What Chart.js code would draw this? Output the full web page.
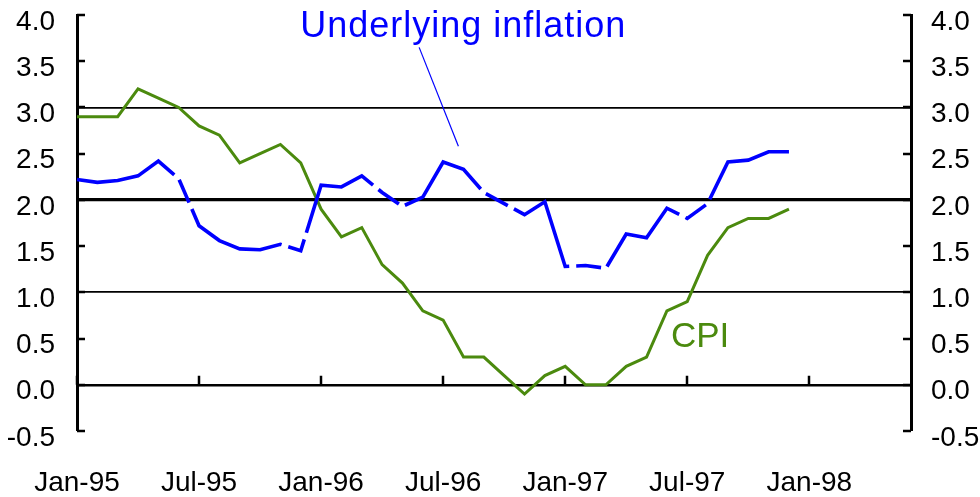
<!DOCTYPE html>
<html>
<head>
<meta charset="utf-8">
<script src="https://cdn.jsdelivr.net/npm/chart.js"></script>
<style>
  html, body { margin: 0; padding: 0; background: #fff; }
  #wrap { width: 980px; height: 497px; }
</style>
</head>
<body>
<div id="wrap"><canvas id="grafico" width="980" height="497"></canvas></div>
<script>
// months Jan-95 .. Jun-98
const meses = [
  'Jan-95','Feb-95','Mar-95','Apr-95','May-95','Jun-95','Jul-95','Aug-95','Sep-95','Oct-95','Nov-95','Dec-95',
  'Jan-96','Feb-96','Mar-96','Apr-96','May-96','Jun-96','Jul-96','Aug-96','Sep-96','Oct-96','Nov-96','Dec-96',
  'Jan-97','Feb-97','Mar-97','Apr-97','May-97','Jun-97','Jul-97','Aug-97','Sep-97','Oct-97','Nov-97','Dec-97',
  'Jan-98','Feb-98','Mar-98','Apr-98','May-98','Jun-98'
];

const cpi = [2.9, 2.9, 2.9, 3.2, 3.1, 3.0, 2.8, 2.7, 2.4, 2.5, 2.6, 2.4,
             1.9, 1.6, 1.7, 1.3, 1.1, 0.8, 0.7, 0.3, 0.3, 0.1, -0.1, 0.1,
             0.2, 0.0, 0.0, 0.2, 0.3, 0.8, 0.9, 1.4, 1.7, 1.8, 1.8, 1.9];

const subjacente = [2.22, 2.19, 2.21, 2.26, 2.42, 2.23, 1.72, 1.56, 1.47, 1.46, 1.52, 1.45,
                    2.16, 2.14, 2.26, 2.08, 1.93, 2.03, 2.41, 2.33, 2.08, 1.96, 1.84, 1.98,
                    1.28, 1.29, 1.26, 1.63, 1.59, 1.91, 1.80, 1.96, 2.41, 2.43, 2.52, 2.52];

const yMin = -0.5, yMax = 4.0, yStep = 0.5;

const AZUL = '#0000ff';
const VERDE = '#4b8a0e';
const FONTE = '"Liberation Sans", Arial, sans-serif';

// tick marks pointing into the plot + x ticks on the zero line + labels
const extras = {
  id: 'extras',
  afterDatasetsDraw(chart) {
    const c = chart.ctx;
    const x = chart.scales.x, y = chart.scales.y;
    const area = chart.chartArea;
    c.save();
    c.strokeStyle = '#000';
    c.lineWidth = 2.5;
    c.beginPath();
    for (let v = yMin; v <= yMax + 1e-9; v += yStep) {
      const py = Math.round(y.getPixelForValue(v));
      c.moveTo(area.left, py); c.lineTo(area.left + 8, py);
      c.moveTo(area.right, py); c.lineTo(area.right - 8, py);
    }
    const y0 = y.getPixelForValue(0);
    for (let i = 0; i < meses.length; i += 6) {
      const px = Math.round(x.getPixelForValue(i));
      c.moveTo(px, y0); c.lineTo(px, y0 - 9);
    }
    c.stroke();

    // leader line
    c.strokeStyle = AZUL;
    c.lineWidth = 1.2;
    c.beginPath();
    c.moveTo(x.getPixelForValue(16.82), y.getPixelForValue(3.65));
    c.lineTo(x.getPixelForValue(18.75), y.getPixelForValue(2.58));
    c.stroke();

    c.textBaseline = 'alphabetic';
    c.textAlign = 'left';
    c.fillStyle = AZUL;
    c.font = '36px ' + FONTE;
    c.letterSpacing = '1px';
    c.fillText('Underlying inflation', x.getPixelForValue(10.97), y.getPixelForValue(3.76));
    c.fillStyle = VERDE;
    c.font = '35px ' + FONTE;
    c.letterSpacing = '0px';
    c.fillText('CPI', x.getPixelForValue(29.2), y.getPixelForValue(0.41));
    c.restore();
  }
};

function larguraGrade(ctx) {
  const v = Math.round(ctx.tick.value * 10) / 10;
  if (v === 2) return 3.2;
  if (v === 0) return 2.4;
  if (v === 1 || v === 3) return 1.8;
  return 0;
}

const eixoY = (pos, largura, grade) => ({
  type: 'linear',
  position: pos,
  min: yMin,
  max: yMax,
  afterFit(s) {
    s.width = largura;
    s.paddingTop = 0;
    s.paddingBottom = 0;
  },
  ticks: {
    stepSize: yStep,
    color: '#000',
    font: { family: FONTE, size: 28 },
    padding: pos === 'left' ? 22 : 20,
    labelOffset: 7,
    callback: v => v.toFixed(1)
  },
  border: { display: true, color: '#000', width: 3 },
  grid: {
    display: grade,
    drawTicks: false,
    color: '#000',
    lineWidth: larguraGrade
  }
});

new Chart(document.getElementById('grafico').getContext('2d'), {
  type: 'line',
  data: {
    labels: meses,
    datasets: [
      {
        label: 'Underlying inflation',
        data: subjacente,
        borderColor: AZUL,
        borderWidth: 3.6,
        borderDash: [108, 7, 25, 7],
        pointRadius: 0,
        tension: 0,
        yAxisID: 'y'
      },
      {
        label: 'CPI',
        data: cpi,
        borderColor: VERDE,
        borderWidth: 3,
        pointRadius: 0,
        tension: 0,
        yAxisID: 'y'
      }
    ]
  },
  options: {
    responsive: false,
    animation: false,
    devicePixelRatio: 1,
    layout: { padding: { top: 15, left: 0, right: 0, bottom: 0 } },
    plugins: { legend: { display: false }, tooltip: { enabled: false } },
    scales: {
      x: {
        type: 'category',
        offset: false,
        afterFit(s) {
          s.height = 66;
          s.paddingLeft = 0;
          s.paddingRight = 0;
        },
        border: { display: false },
        grid: { display: false, drawTicks: false },
        ticks: {
          autoSkip: false,
          maxRotation: 0,
          color: '#000',
          padding: 35,
          font: { family: FONTE, size: 28 },
          callback: (v, i) => (i % 6 === 0 ? meses[i] : '')
        }
      },
      y: eixoY('left', 77, true),
      y2: eixoY('right', 69, false)
    }
  },
  plugins: [extras]
});
</script>
</body>
</html>
